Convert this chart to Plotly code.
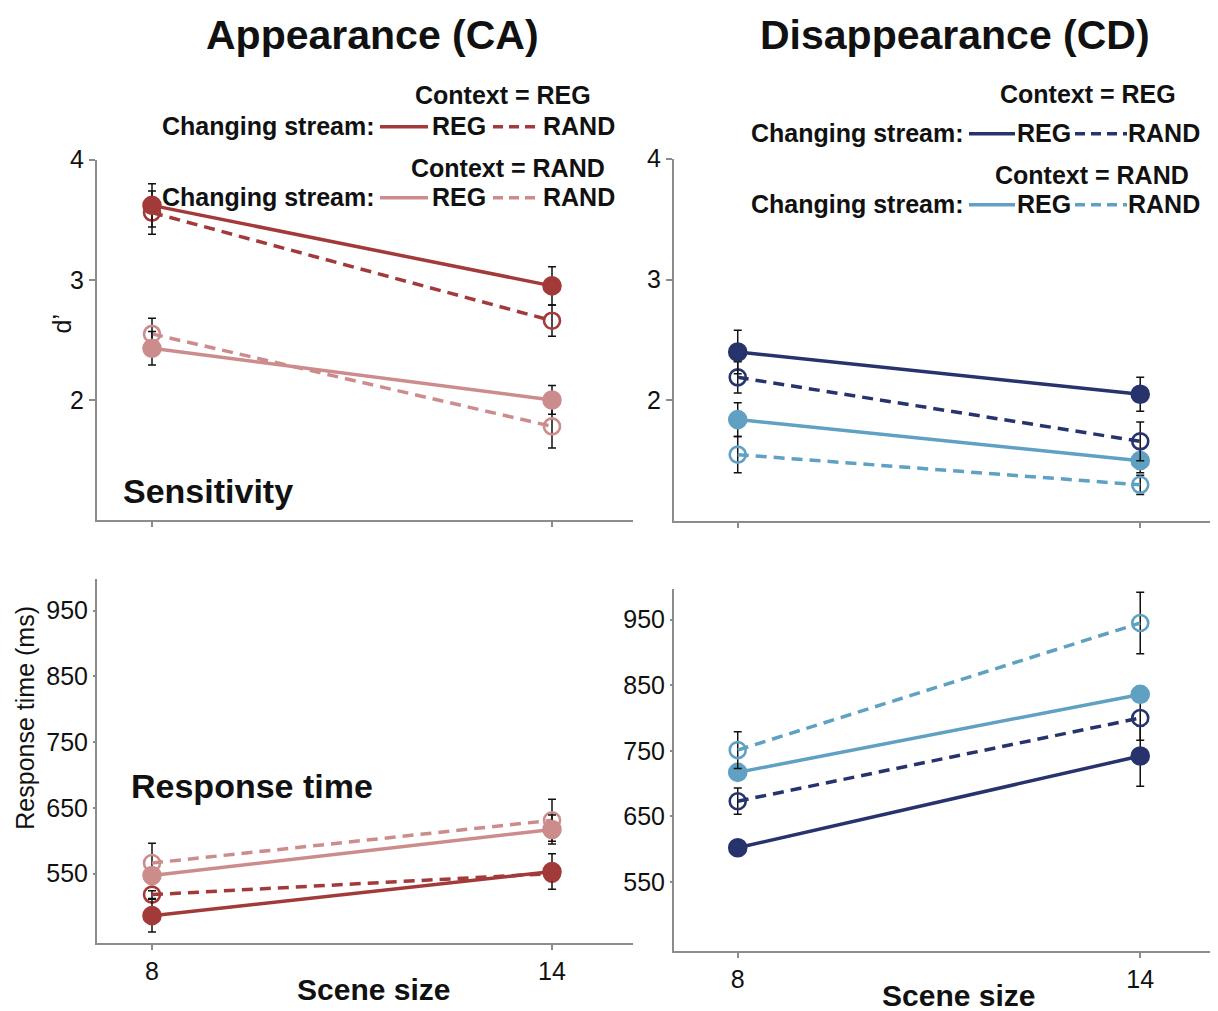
import plotly.graph_objects as go

# target picture size; page offset / scale measured from the rendered page
W, H = 1218, 1011
OX, OY, SY = 8, 22, 0.988
FW, FH = W - 2 * OX, 1010

# ---------------- data ----------------
scene_size = [8, 14]

# Appearance (CA) - sensitivity d'
ca_d_ctxREG_chREG = [3.62, 2.95]
ca_d_ctxREG_chREG_err = [0.18, 0.16]
ca_d_ctxREG_chRAND = [3.56, 2.66]
ca_d_ctxREG_chRAND_err = [0.18, 0.13]
ca_d_ctxRAND_chREG = [2.43, 2.00]
ca_d_ctxRAND_chREG_err = [0.14, 0.12]
ca_d_ctxRAND_chRAND = [2.55, 1.78]
ca_d_ctxRAND_chRAND_err = [0.13, 0.18]

# Disappearance (CD) - sensitivity d'
cd_d_ctxREG_chREG = [2.40, 2.05]
cd_d_ctxREG_chREG_err = [0.18, 0.14]
cd_d_ctxREG_chRAND = [2.19, 1.66]
cd_d_ctxREG_chRAND_err = [0.13, 0.16]
cd_d_ctxRAND_chREG = [1.84, 1.50]
cd_d_ctxRAND_chREG_err = [0.14, 0.10]
cd_d_ctxRAND_chRAND = [1.55, 1.30]
cd_d_ctxRAND_chRAND_err = [0.15, 0.08]

# Appearance (CA) - response time (ms)
ca_rt_ctxREG_chREG = [486, 553]
ca_rt_ctxREG_chREG_err = [25, 27]
ca_rt_ctxREG_chRAND = [518, 550]
ca_rt_ctxREG_chRAND_err = [6, 12]
ca_rt_ctxRAND_chREG = [547, 617]
ca_rt_ctxRAND_chREG_err = [12, 22]
ca_rt_ctxRAND_chRAND = [566, 631]
ca_rt_ctxRAND_chRAND_err = [30, 32]

# Disappearance (CD) - response time (ms)
cd_rt_ctxREG_chREG = [602, 742]
cd_rt_ctxREG_chREG_err = [5, 46]
cd_rt_ctxREG_chRAND = [673, 800]
cd_rt_ctxREG_chRAND_err = [20, 34]
cd_rt_ctxRAND_chREG = [717, 836]
cd_rt_ctxRAND_chREG_err = [12, 12]
cd_rt_ctxRAND_chRAND = [751, 945]
cd_rt_ctxRAND_chRAND_err = [28, 47]

d_ticks = [2, 3, 4]
rt_ticks = [550, 650, 750, 850, 950]

# ---------------- style ----------------
DARK_RED = "#A33A3A"
LIGHT_RED = "#CC8C8C"
NAVY = "#26336D"
LIGHT_BLUE = "#5FA0C3"
AXIS = "#8C8C8C"
FONT = "Liberation Sans, Arial, sans-serif"
DASH = "11px,7px"


def px(x):
    return min(max((x - OX) / FW, 0), 1)


def py(y):
    return min(max(1 - ((y - OY) / SY) / FH, 0), 1)


fig = go.Figure()


def add_series(y, err, color, dashed, xa, ya):
    fig.add_trace(go.Scatter(
        x=scene_size, y=y, xaxis=xa, yaxis=ya,
        mode="lines+markers",
        line=dict(color=color, width=3.5, dash=DASH if dashed else "solid"),
        marker=dict(
            symbol="circle-open" if dashed else "circle",
            size=16 if dashed else 17,
            color=color,
            line=dict(width=2.6, color=color),
        ),
        error_y=dict(type="data", array=err, visible=True,
                     color="#111111", thickness=1.5, width=4),
        showlegend=False, hoverinfo="skip",
    ))


# top-left CA d'
add_series(ca_d_ctxRAND_chRAND, ca_d_ctxRAND_chRAND_err, LIGHT_RED, True, "x", "y")
add_series(ca_d_ctxRAND_chREG, ca_d_ctxRAND_chREG_err, LIGHT_RED, False, "x", "y")
add_series(ca_d_ctxREG_chRAND, ca_d_ctxREG_chRAND_err, DARK_RED, True, "x", "y")
add_series(ca_d_ctxREG_chREG, ca_d_ctxREG_chREG_err, DARK_RED, False, "x", "y")
# top-right CD d'
add_series(cd_d_ctxRAND_chRAND, cd_d_ctxRAND_chRAND_err, LIGHT_BLUE, True, "x2", "y2")
add_series(cd_d_ctxRAND_chREG, cd_d_ctxRAND_chREG_err, LIGHT_BLUE, False, "x2", "y2")
add_series(cd_d_ctxREG_chRAND, cd_d_ctxREG_chRAND_err, NAVY, True, "x2", "y2")
add_series(cd_d_ctxREG_chREG, cd_d_ctxREG_chREG_err, NAVY, False, "x2", "y2")
# bottom-left CA RT
add_series(ca_rt_ctxRAND_chRAND, ca_rt_ctxRAND_chRAND_err, LIGHT_RED, True, "x3", "y3")
add_series(ca_rt_ctxRAND_chREG, ca_rt_ctxRAND_chREG_err, LIGHT_RED, False, "x3", "y3")
add_series(ca_rt_ctxREG_chRAND, ca_rt_ctxREG_chRAND_err, DARK_RED, True, "x3", "y3")
add_series(ca_rt_ctxREG_chREG, ca_rt_ctxREG_chREG_err, DARK_RED, False, "x3", "y3")
# bottom-right CD RT
add_series(cd_rt_ctxREG_chREG, cd_rt_ctxREG_chREG_err, NAVY, False, "x4", "y4")
add_series(cd_rt_ctxREG_chRAND, cd_rt_ctxREG_chRAND_err, NAVY, True, "x4", "y4")
add_series(cd_rt_ctxRAND_chREG, cd_rt_ctxRAND_chREG_err, LIGHT_BLUE, False, "x4", "y4")
add_series(cd_rt_ctxRAND_chRAND, cd_rt_ctxRAND_chRAND_err, LIGHT_BLUE, True, "x4", "y4")


def xaxis(domain, rng, anchor, labels):
    return dict(domain=domain, range=rng, anchor=anchor,
                showline=True, linecolor=AXIS, linewidth=2,
                ticks="outside", ticklen=5, tickcolor=AXIS, tickwidth=1.5,
                tickvals=scene_size, ticktext=[str(v) for v in scene_size],
                showticklabels=labels, showgrid=False, zeroline=False,
                tickfont=dict(family=FONT, size=25, color="#111"),
                fixedrange=True)


def yaxis(domain, rng, anchor, tickvals, ticklen):
    return dict(domain=domain, range=rng, anchor=anchor,
                showline=True, linecolor=AXIS, linewidth=2,
                ticks="outside", ticklen=ticklen, tickcolor=AXIS, tickwidth=1.5,
                tickvals=tickvals, showgrid=False, zeroline=False,
                tickfont=dict(family=FONT, size=25, color="#111"),
                fixedrange=True)


left_dom = [px(97), px(633)]
right_dom = [px(674), px(1210)]
left_rng = [7.175, 15.215]
right_rng = [7.05, 15.04]

fig.update_layout(
    width=FW, height=FH,
    margin=dict(l=0, r=0, t=0, b=0),
    paper_bgcolor="white", plot_bgcolor="white",
    font=dict(family=FONT, color="#111"),
    xaxis=xaxis(left_dom, left_rng, "y", False),
    yaxis=yaxis([py(521), py(160)], [1, 4], "x", d_ticks, 6),
    xaxis2=xaxis(right_dom, right_rng, "y2", False),
    yaxis2=yaxis([py(522), py(159)], [1, 4], "x2", d_ticks, 6),
    xaxis3=xaxis(left_dom, left_rng, "y3", True),
    yaxis3=yaxis([py(945), py(580)], [444, 998], "x3", rt_ticks, 2),
    xaxis4=xaxis(right_dom, right_rng, "y4", True),
    yaxis4=yaxis([py(953), py(590)], [444, 997], "x4", rt_ticks, 2),
)

ann = []
shapes = []


def text(x, y, s, size, bold=True, xanchor="center", angle=0):
    ann.append(dict(
        x=px(x), y=py(y), xref="paper", yref="paper",
        text=f"<b>{s}</b>" if bold else s, showarrow=False,
        xanchor=xanchor, yanchor="middle", textangle=angle,
        font=dict(family=FONT, size=size, color="#111"),
    ))


# titles
text(372, 35, "Appearance (CA)", 41)
text(955, 35, "Disappearance (CD)", 41)

# panel labels
text(121, 492, "Sensitivity", 34, xanchor="left")
text(129, 787, "Response time", 34, xanchor="left")

# axis titles
text(62, 325, "d’", 25, bold=False, angle=-90)
text(25, 719, "Response time (ms)", 25, bold=False, angle=-90)
text(373, 991, "Scene size", 30)
text(958, 997, "Scene size", 30)


def legend_row(y, ctx_label, ctx_x, ctx_y, cs_right, l1, reg_x, l2, rand_x, color):
    text(ctx_x, ctx_y, ctx_label, 25)
    text(cs_right, y, "Changing stream:", 25, xanchor="right")
    shapes.append(dict(type="line", xref="paper", yref="paper",
                       x0=px(l1[0]), x1=px(l1[1]), y0=py(y + 1), y1=py(y + 1),
                       line=dict(color=color, width=3.5)))
    text(reg_x, y, "REG", 25, xanchor="left")
    shapes.append(dict(type="line", xref="paper", yref="paper",
                       x0=px(l2[0]), x1=px(l2[1]), y0=py(y + 1), y1=py(y + 1),
                       line=dict(color=color, width=3.5, dash="10px,6px")))
    text(rand_x, y, "RAND", 25, xanchor="left")


# left legend
legend_row(126, "Context = REG", 503, 95, 377, (380, 428), 430, (493, 541), 541, DARK_RED)
legend_row(197, "Context = RAND", 508, 168, 377, (380, 428), 430, (493, 541), 541, LIGHT_RED)
# right legend
legend_row(133, "Context = REG", 1088, 94, 966, (969, 1015), 1015, (1075, 1127), 1126, NAVY)
legend_row(204, "Context = RAND", 1092, 175, 966, (969, 1015), 1015, (1075, 1127), 1126, LIGHT_BLUE)

fig.update_layout(annotations=ann, shapes=shapes)

fig.write_html("out.html")
